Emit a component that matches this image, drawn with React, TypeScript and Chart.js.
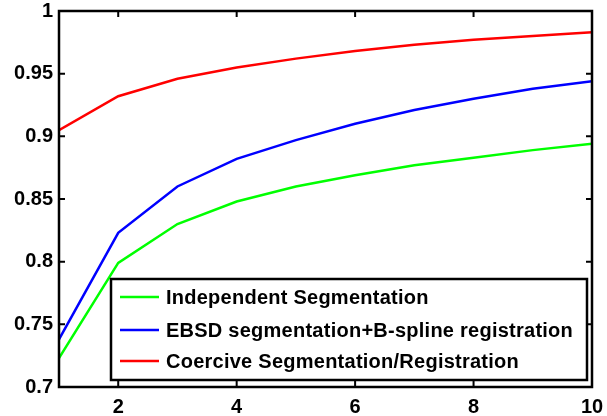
import React, { useEffect, useRef } from "react";
import { Chart, registerables } from "chart.js";

Chart.register(...registerables);

const xValues = [1, 2, 3, 4, 5, 6, 7, 8, 9, 10];
const independentSeg = [0.723, 0.799, 0.830, 0.848, 0.860, 0.869, 0.877, 0.883, 0.889, 0.894];
const ebsdBspline = [0.738, 0.823, 0.860, 0.882, 0.897, 0.910, 0.921, 0.930, 0.938, 0.944];
const coerciveSegReg = [0.905, 0.932, 0.946, 0.955, 0.962, 0.968, 0.973, 0.977, 0.980, 0.983];

const seriesLabels = [
  "Independent Segmentation",
  "EBSD segmentation+B-spline registration",
  "Coercive Segmentation/Registration",
];
const seriesColors = ["#00ff00", "#0000ff", "#ff0000"];

const xTickValues = [2, 4, 6, 8, 10];
const yTickValues = [0.7, 0.75, 0.8, 0.85, 0.9, 0.95, 1];
const yTickLabels = ["0.7", "0.75", "0.8", "0.85", "0.9", "0.95", "1"];

const FONT = "'Liberation Sans', Arial, Helvetica, sans-serif";

const boxPlugin = {
  id: "matlabBox",
  afterDraw(chart: any) {
    const { ctx, chartArea } = chart;
    const { left, right, top, bottom } = chartArea;
    const xs = chart.scales.x;
    const ys = chart.scales.y;
    ctx.save();
    ctx.strokeStyle = "#000";
    ctx.lineWidth = 2.5;
    ctx.strokeRect(left, top, right - left, bottom - top);
    ctx.lineWidth = 2;
    const tl = 6;
    ctx.beginPath();
    for (const v of xTickValues) {
      const px = xs.getPixelForValue(v);
      ctx.moveTo(px, bottom);
      ctx.lineTo(px, bottom - tl);
      ctx.moveTo(px, top);
      ctx.lineTo(px, top + tl);
    }
    for (const v of yTickValues) {
      const py = ys.getPixelForValue(v);
      ctx.moveTo(left, py);
      ctx.lineTo(left + tl, py);
      ctx.moveTo(right, py);
      ctx.lineTo(right - tl, py);
    }
    ctx.stroke();

    // legend box
    const lx = 111, ly = 279, lw = 476, lh = 101;
    ctx.fillStyle = "#fff";
    ctx.fillRect(lx, ly, lw, lh);
    ctx.lineWidth = 2.5;
    ctx.strokeRect(lx, ly, lw, lh);
    const rows = [297, 330, 361];
    ctx.font = `bold 20px ${FONT}`;
    try { (ctx as any).letterSpacing = "0.25px"; } catch (e) {}
    ctx.textBaseline = "middle";
    ctx.textAlign = "left";
    chart.data.datasets.forEach((ds: any, i: number) => {
      ctx.strokeStyle = ds.borderColor;
      ctx.lineWidth = 2.5;
      ctx.beginPath();
      ctx.moveTo(120, rows[i]);
      ctx.lineTo(159, rows[i]);
      ctx.stroke();
      ctx.fillStyle = "#000";
      ctx.fillText(ds.label, 166, rows[i] + 1);
    });
    ctx.restore();
  },
};

export default function App() {
  const ref = useRef<HTMLCanvasElement>(null);
  useEffect(() => {
    document.body.style.margin = "0";
    const series = [independentSeg, ebsdBspline, coerciveSegReg];
    const chart = new Chart(ref.current!, {
      type: "line",
      data: {
        datasets: series.map((s, i) => ({
          label: seriesLabels[i],
          data: s.map((y, j) => ({ x: xValues[j], y })),
          borderColor: seriesColors[i],
          backgroundColor: seriesColors[i],
          borderWidth: 2.5,
          pointRadius: 0,
          tension: 0,
          fill: false,
        })),
      },
      options: {
        responsive: false,
        animation: false,
        layout: { padding: { left: 0, top: 11, right: 15, bottom: 0 } },
        plugins: { legend: { display: false }, tooltip: { enabled: false } },
        scales: {
          x: {
            type: "linear",
            min: 1,
            max: 10,
            grid: { display: false, drawTicks: false },
            border: { display: false },
            afterBuildTicks: (s: any) => {
              s.ticks = xTickValues.map((v) => ({ value: v }));
            },
            afterFit: (s: any) => {
              s.height = 29;
              s.paddingLeft = 0;
              s.paddingRight = 0;
            },
            ticks: {
              color: "#000",
              padding: 8,
              font: { family: FONT, size: 20, weight: "bold" },
              callback: (v: any) => String(v),
              maxRotation: 0,
            },
          },
          y: {
            type: "linear",
            min: 0.7,
            max: 1,
            grid: { display: false, drawTicks: false },
            border: { display: false },
            afterBuildTicks: (s: any) => {
              s.ticks = yTickValues.map((v) => ({ value: v }));
            },
            afterFit: (s: any) => {
              s.width = 59;
              s.paddingTop = 0;
              s.paddingBottom = 0;
            },
            ticks: {
              color: "#000",
              padding: 6,
              font: { family: FONT, size: 20, weight: "bold" },
              callback: (v: any) => {
                const idx = yTickValues.findIndex((t) => Math.abs(t - v) < 1e-6);
                return idx >= 0 ? yTickLabels[idx] : "";
              },
            },
          },
        },
      },
      plugins: [boxPlugin],
    });
    return () => chart.destroy();
  }, []);
  return <canvas ref={ref} width={607} height={416} style={{ display: "block" }} />;
}
